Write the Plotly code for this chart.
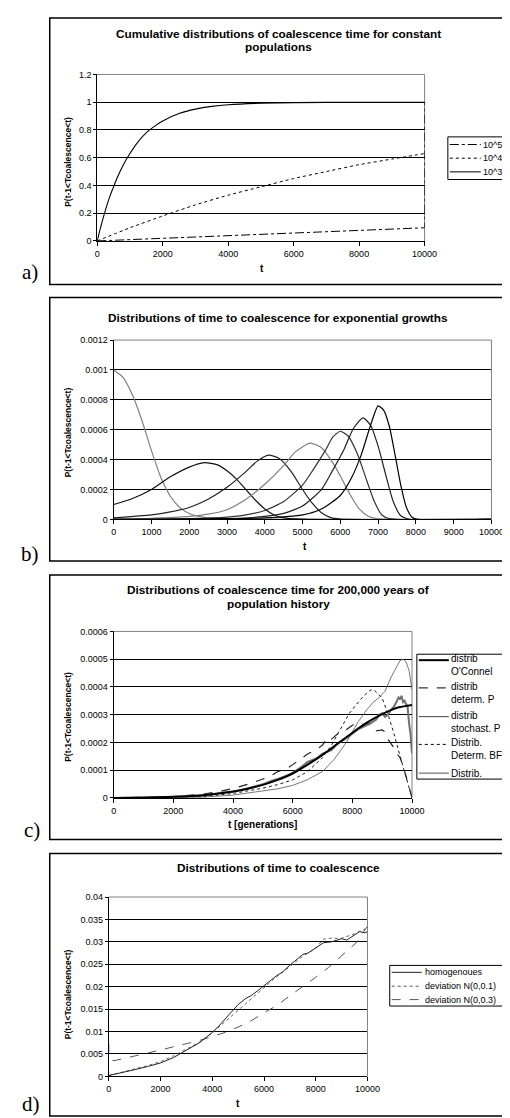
import plotly.graph_objects as go

W, H = 510, 1118
F = "Liberation Sans"
SERIF = "Liberation Serif"

# ---------------- Panel a data ----------------
a_t3 = [0, 100, 200, 300, 400, 500, 600, 800, 1000, 1200, 1500, 1800, 2000, 2500, 3000, 3500, 4000, 5000, 6000, 8000, 10000]
a_v3 = [0, 0.095, 0.18, 0.26, 0.33, 0.39, 0.45, 0.55, 0.63, 0.70, 0.78, 0.835, 0.865, 0.918, 0.95, 0.97, 0.982, 0.993, 0.997, 1.0, 1.0]
a_t4 = [0, 1000, 2000, 3000, 4000, 5000, 6000, 7000, 8000, 9000, 10000]
a_v4 = [0, 0.095, 0.18, 0.26, 0.33, 0.39, 0.45, 0.50, 0.55, 0.59, 0.63]
a_t5 = [0, 1000, 2000, 3000, 4000, 5000, 6000, 7000, 8000, 9000, 10000, 10000]
a_v5 = [0, 0.01, 0.02, 0.03, 0.039, 0.049, 0.058, 0.068, 0.077, 0.086, 0.095, 1.0]
a_names = ["10^5", "10^4", "10^3"]
a_yticks = ["0", "0.2", "0.4", "0.6", "0.8", "1", "1.2"]
a_yvals = [0, 0.2, 0.4, 0.6, 0.8, 1.0, 1.2]
a_xticks = ["0", "2000", "4000", "6000", "8000", "10000"]
a_xvals = [0, 2000, 4000, 6000, 8000, 10000]

# ---------------- Panel b data ----------------
b_t1 = [0, 250, 500, 750, 1000, 1250, 1500, 1750, 2000, 2250, 2500, 3000, 4000, 6000, 10000]
b_v1 = [1.0e-3, 9.5e-4, 8.3e-4, 6.6e-4, 4.6e-4, 2.8e-4, 1.55e-4, 8e-5, 4e-5, 2e-5, 1e-5, 5e-6, 2e-6, 0, 0]
b_t2 = [0, 500, 1000, 1500, 2000, 2400, 2750, 3000, 3250, 3500, 3750, 4000, 4250, 4500, 5000, 10000]
b_v2 = [1.0e-4, 1.4e-4, 2.0e-4, 2.85e-4, 3.5e-4, 3.8e-4, 3.65e-4, 3.25e-4, 2.7e-4, 2.0e-4, 1.3e-4, 7e-5, 3e-5, 1e-5, 2e-6, 0]
b_t3 = [0, 1000, 1500, 2000, 2500, 3000, 3500, 3800, 4100, 4400, 4700, 5000, 5250, 5500, 5750, 6000, 10000]
b_v3 = [1e-5, 3e-5, 5e-5, 8e-5, 1.35e-4, 2.15e-4, 3.2e-4, 3.9e-4, 4.3e-4, 4.05e-4, 3.2e-4, 2.0e-4, 1.1e-4, 4.5e-5, 1.2e-5, 3e-6, 0]
b_t4 = [0, 1000, 2000, 2500, 3000, 3500, 4000, 4500, 4800, 5200, 5500, 5800, 6000, 6250, 6500, 6750, 7000, 10000]
b_v4 = [3e-6, 8e-6, 2e-5, 3.5e-5, 6.5e-5, 1.35e-4, 2.35e-4, 3.6e-4, 4.5e-4, 5.1e-4, 4.8e-4, 3.8e-4, 2.9e-4, 1.7e-4, 7e-5, 2e-5, 4e-6, 0]
b_t5 = [0, 2000, 3000, 3500, 4000, 4500, 5000, 5300, 5600, 5800, 6000, 6200, 6450, 6700, 6900, 7100, 7300, 10000]
b_v5 = [0, 5e-6, 1.5e-5, 3e-5, 6e-5, 1.2e-4, 2.3e-4, 3.4e-4, 4.6e-4, 5.5e-4, 5.9e-4, 5.6e-4, 4.4e-4, 2.6e-4, 1.2e-4, 3e-5, 5e-6, 0]
b_t6 = [0, 3000, 4000, 4500, 5000, 5500, 5800, 6100, 6350, 6600, 6800, 7000, 7200, 7400, 7600, 7800, 10000]
b_v6 = [0, 4e-6, 2e-5, 4e-5, 9e-5, 2.0e-4, 3.3e-4, 4.7e-4, 6.1e-4, 6.8e-4, 6.3e-4, 4.9e-4, 3.0e-4, 1.2e-4, 2.5e-5, 3e-6, 0]
b_t7 = [0, 4000, 5000, 5500, 6000, 6300, 6550, 6800, 7000, 7150, 7300, 7450, 7600, 7750, 7900, 8050, 10000]
b_v7 = [0, 1e-5, 3e-5, 7e-5, 1.6e-4, 2.8e-4, 4.3e-4, 6.3e-4, 7.6e-4, 7.3e-4, 6.2e-4, 4.3e-4, 2.3e-4, 8e-5, 1.5e-5, 0, 0]
b_yticks = ["0", "0.0002", "0.0004", "0.0006", "0.0008", "0.001", "0.0012"]
b_yvals = [0, 0.0002, 0.0004, 0.0006, 0.0008, 0.001, 0.0012]
b_xticks = ["0", "1000", "2000", "3000", "4000", "5000", "6000", "7000", "8000", "9000", "10000"]
b_xvals = [0, 1000, 2000, 3000, 4000, 5000, 6000, 7000, 8000, 9000, 10000]

# ---------------- Panel c data ----------------
c_tA = [0, 1000, 2000, 3000, 4000, 4500, 5000, 5500, 6000, 6500, 7000, 7500, 8000, 8500, 9000, 9500, 10000]
c_vA = [0, 1e-6, 4e-6, 1.0e-5, 2.3e-5, 3.3e-5, 4.7e-5, 6.5e-5, 8.8e-5, 1.2e-4, 1.55e-4, 1.95e-4, 2.35e-4, 2.72e-4, 3.02e-4, 3.25e-4, 3.35e-4]
c_tB = [0, 2000, 3000, 3500, 4000, 4500, 5000, 5300, 5500, 5800, 6000, 6300, 6500, 6800, 7000, 7200, 7300, 7500, 7700, 8000, 8200, 8400, 8600, 8700, 8800, 9000, 9100, 9200, 9300, 9400, 9500, 9600, 9700, 9800, 9900, 10000]
c_vB = [0, 4e-6, 1.4e-5, 2.2e-5, 3.4e-5, 4.9e-5, 6.8e-5, 8.2e-5, 9.5e-5, 1.05e-4, 1.2e-4, 1.42e-4, 1.58e-4, 1.75e-4, 1.9e-4, 2.2e-4, 2.12e-4, 2.3e-4, 2.38e-4, 2.62e-4, 2.7e-4, 2.64e-4, 2.7e-4, 2.58e-4, 2.42e-4, 2.45e-4, 2.38e-4, 2.1e-4, 1.95e-4, 1.8e-4, 1.58e-4, 1.45e-4, 1.15e-4, 8e-5, 4e-5, 0]
c_tD = [0, 3000, 4000, 5000, 5500, 6000, 6500, 7000, 7400, 7800, 8200, 8500, 8700, 8900, 9100, 9300, 9500, 9600, 9700, 9800, 9900, 10000]
c_vD = [0, 3e-6, 1e-5, 2.4e-5, 3.3e-5, 4.5e-5, 6.6e-5, 9.5e-5, 1.4e-4, 2.0e-4, 2.75e-4, 3.2e-4, 3.45e-4, 3.62e-4, 3.85e-4, 4.35e-4, 4.75e-4, 4.95e-4, 5.0e-4, 4.9e-4, 4.6e-4, 3.9e-4]
c_tC = [0, 3000, 4000, 5000, 5500, 6000, 6500, 7000, 7300, 7600, 7900, 8200, 8400, 8600, 8700, 8800, 9000, 9200, 9400, 9600, 9800, 10000]
c_vC = [0, 5e-6, 1.6e-5, 3.5e-5, 4.8e-5, 6.5e-5, 9.5e-5, 1.45e-4, 1.9e-4, 2.5e-4, 3.05e-4, 3.45e-4, 3.7e-4, 3.88e-4, 3.9e-4, 3.82e-4, 3.6e-4, 3.0e-4, 2.3e-4, 1.5e-4, 7e-5, 0]
c_tE = [0, 2000, 3000, 4000, 4500, 5000, 5300, 5500, 5800, 6000, 6300, 6500, 6800, 7000, 7300, 7500, 7800, 8000, 8200, 8400, 8600, 8800, 8900, 9000, 9100, 9200, 9300, 9400, 9500, 9550, 9600, 9650, 9700, 9750, 9800, 9850, 9900, 9950, 10000]
c_vE = [0, 4e-6, 1e-5, 2.2e-5, 3.5e-5, 4.9e-5, 6.2e-5, 6.8e-5, 8.0e-5, 9.0e-5, 1.12e-4, 1.3e-4, 1.42e-4, 1.6e-4, 1.72e-4, 1.95e-4, 2.15e-4, 2.3e-4, 2.48e-4, 2.58e-4, 2.68e-4, 2.82e-4, 3.0e-4, 3.05e-4, 2.92e-4, 3.0e-4, 3.18e-4, 3.3e-4, 3.48e-4, 3.62e-4, 3.55e-4, 3.68e-4, 3.45e-4, 3.5e-4, 3.38e-4, 3.3e-4, 2.7e-4, 2.3e-4, 1.6e-4]
c_names = [["distrib", "O'Connel"], ["distrib", "determ. P"], ["distrib", "stochast. P"], ["Distrib.", "Determ. BF"], ["Distrib."]]
c_yticks = ["0", "0.0001", "0.0002", "0.0003", "0.0004", "0.0005", "0.0006"]
c_yvals = [0, 0.0001, 0.0002, 0.0003, 0.0004, 0.0005, 0.0006]
c_xticks = ["0", "2000", "4000", "6000", "8000", "10000"]
c_xvals = [0, 2000, 4000, 6000, 8000, 10000]

# ---------------- Panel d data ----------------
d_t1 = [0, 500, 1000, 1500, 2000, 2500, 3000, 3500, 4000, 4300, 4600, 5000, 5300, 5500, 5800, 6000, 6300, 6500, 6700, 7000, 7300, 7500, 7700, 8000, 8300, 8600, 9000, 9200, 9500, 9700, 9900, 10000]
d_v1 = [0.0002, 0.0008, 0.0015, 0.0022, 0.0030, 0.0042, 0.0059, 0.0075, 0.0098, 0.0115, 0.0135, 0.0160, 0.0174, 0.0180, 0.0193, 0.0203, 0.0216, 0.0225, 0.0232, 0.0248, 0.0262, 0.0272, 0.0275, 0.0287, 0.0298, 0.0300, 0.0307, 0.0304, 0.0316, 0.0323, 0.0320, 0.0323]
d_t2 = [0, 500, 1000, 1500, 2000, 2500, 3000, 3500, 4000, 4500, 5000, 5500, 6000, 6500, 7000, 7500, 8000, 8300, 8500, 9000, 9500, 10000]
d_v2 = [0.0002, 0.0009, 0.0016, 0.0024, 0.0033, 0.0046, 0.0061, 0.0076, 0.0097, 0.0122, 0.0148, 0.0172, 0.0197, 0.0223, 0.0245, 0.0268, 0.0286, 0.0306, 0.0308, 0.0308, 0.0318, 0.0331]
d_t3 = [0, 0, 50, 200, 500, 1000, 1500, 2000, 2500, 3000, 3500, 4000, 4500, 5000, 5500, 6000, 6500, 7000, 7500, 8000, 8500, 9000, 9300, 9600, 10000]
d_v3 = [0.0072, 0.0043, 0.0038, 0.0035, 0.0039, 0.0045, 0.0052, 0.0059, 0.0066, 0.0073, 0.0080, 0.0089, 0.0098, 0.0110, 0.0124, 0.0142, 0.0158, 0.0180, 0.0200, 0.0221, 0.0243, 0.0268, 0.0283, 0.0300, 0.0335]
d_names = ["homogenoues", "deviation N(0,0.1)", "deviation N(0,0.3)"]
d_yticks = ["0", "0.005", "0.01", "0.015", "0.02", "0.025", "0.03", "0.035", "0.04"]
d_yvals = [0, 0.005, 0.01, 0.015, 0.02, 0.025, 0.03, 0.035, 0.04]
d_xticks = ["0", "2000", "4000", "6000", "8000", "10000"]
d_xvals = [0, 2000, 4000, 6000, 8000, 10000]

titles = [["Cumulative distributions of coalescence time for constant", "populations"],
          ["Distributions of time to coalescence for exponential growths"],
          ["Distributions of coalescence time for 200,000 years of", "population history"],
          ["Distributions of time to coalescence"]]
ytitle = "P(t-1<Tcoalescence<t)"
xtitles = ["t", "t", "t [generations]", "t"]
panel_labels = ["a)", "b)", "c)", "d)"]


def px(x):
    return x / W


def py(y):
    return 1 - y / H


fig = go.Figure()


def line(xs, ys, ax, color, width=1.0, dash="solid", shape="spline"):
    fig.add_trace(go.Scatter(x=xs, y=ys, mode="lines", xaxis="x" + ax, yaxis="y" + ax,
                             line=dict(color=color, width=width, dash=dash, shape=shape, smoothing=0.6),
                             showlegend=False, hoverinfo="skip"))


# panel a
line(a_t5, a_v5, "", "black", 1, "dashdot", "linear")
line(a_t4, a_v4, "", "black", 1, "dot")
line(a_t3, a_v3, "", "black", 1.1, "solid")
# panel b
line(b_t1, b_v1, "2", "#808080", 1.2)
line(b_t2, b_v2, "2", "#111111", 1.2)
line(b_t3, b_v3, "2", "#222222", 1.2)
line(b_t4, b_v4, "2", "#808080", 1.2)
line(b_t5, b_v5, "2", "#333333", 1.2)
line(b_t6, b_v6, "2", "#222222", 1.2)
line(b_t7, b_v7, "2", "#000000", 1.2)
# panel c
line(c_tD, c_vD, "3", "#555555", 0.8, "solid", "linear")
line(c_tC, c_vC, "3", "black", 0.9, "dot", "linear")
line(c_tB, c_vB, "3", "#222222", 1.2, "dash", "linear")
line(c_tE, c_vE, "3", "#707070", 2.0, "solid", "linear")
line(c_tA, c_vA, "3", "black", 2.0, "solid")
# panel d
line(d_t3, d_v3, "4", "#555555", 1.0, "dash", "linear")
line(d_t2, d_v2, "4", "#666666", 1.0, "dot", "linear")
line(d_t1, d_v1, "4", "#222222", 1.0, "solid", "linear")

# plot areas [x0, x1, ytop, ybottom] in pixels
areas = [(89, 427, 62, 230), (106, 496, 330, 511), (106, 414, 624, 792), (101, 368, 892, 1073)]
yinfo = [(a_yvals, a_yticks, 1.2), (b_yvals, b_yticks, 0.0012), (c_yvals, c_yticks, 0.0006), (d_yvals, d_yticks, 0.04)]
xinfo = [(a_xvals, a_xticks), (b_xvals, b_xticks), (c_xvals, c_xticks), (d_xvals, d_xticks)]

layout = dict(width=W, height=H, margin=dict(l=0, r=0, t=0, b=0),
              paper_bgcolor="white", plot_bgcolor="white", showlegend=False)
shapes = []
annotations = []
for i, (x0, x1, yt, yb) in enumerate(areas):
    s = "" if i == 0 else str(i + 1)
    yv, yt_txt, ymax = yinfo[i]
    xv, xt_txt = xinfo[i]
    layout["xaxis" + s] = dict(domain=[px(x0), px(x1)], range=[0, 10000], anchor="y" + s,
                               tickmode="array", tickvals=xv, ticktext=xt_txt,
                               showgrid=False, zeroline=False, showline=True, linecolor="black", linewidth=1,
                               ticks="outside", ticklen=4, tickcolor="black", tickwidth=1,
                               tickfont=dict(family=F, size=9, color="black"), fixedrange=True)
    layout["yaxis" + s] = dict(domain=[py(yb), py(yt)], range=[0, ymax], anchor="x" + s,
                               tickmode="array", tickvals=yv, ticktext=yt_txt,
                               showgrid=True, gridcolor="black", gridwidth=1, zeroline=False,
                               showline=True, linecolor="black", linewidth=1,
                               ticks="outside", ticklen=3, tickcolor="black", tickwidth=1,
                               tickfont=dict(family=F, size=9, color="black"), fixedrange=True)
    shapes.append(dict(type="line", xref="paper", yref="paper", x0=px(x0), x1=px(x1), y0=py(yt), y1=py(yt),
                       line=dict(color="#808080", width=1), layer="above"))
    shapes.append(dict(type="line", xref="paper", yref="paper", x0=px(x1), x1=px(x1), y0=py(yt), y1=py(yb),
                       line=dict(color="#808080", width=1), layer="below"))

# outer panel boxes
boxes = [(40, 509, 5, 274), (40, 509, 287, 553), (40, 509, 567, 834), (40, 509, 848, 1113)]
for (bx0, bx1, by0, by1) in boxes:
    shapes.append(dict(type="rect", xref="paper", yref="paper", x0=px(bx0), x1=px(bx1), y0=py(by1), y1=py(by0),
                       line=dict(color="black", width=1.5), fillcolor="rgba(0,0,0,0)"))

# titles (one annotation per line)
title_pos = [(276, [21, 34.5]), (276, [308]), (276, [582, 596]), (276, [863])]
for lines, (tx, tys) in zip(titles, title_pos):
    for ln, ty in zip(lines, tys):
        annotations.append(dict(text="<b>" + ln + "</b>", x=px(tx), y=py(ty), xref="paper", yref="paper",
                                xanchor="center", yanchor="middle", showarrow=False,
                                font=dict(family=F, size=11.8, color="black")))
# y titles
ytitle_y = [150, 423, 710, 990]
for yy in ytitle_y:
    annotations.append(dict(text="<b>" + ytitle.replace("<", "&lt;") + "</b>", x=px(59), y=py(yy),
                            xref="paper", yref="paper", textangle=-90,
                            xanchor="center", yanchor="middle", showarrow=False,
                            font=dict(family=F, size=8.5, color="black")))
# x titles
xt_pos = [(259, 258), (304, 538), (260, 819), (234, 1100)]
for t, (tx, ty) in zip(xtitles, xt_pos):
    annotations.append(dict(text="<b>" + t + "</b>", x=px(tx), y=py(ty), xref="paper", yref="paper",
                            xanchor="center", yanchor="middle", showarrow=False,
                            font=dict(family=F, size=10, color="black")))
# panel labels
pl_pos = [(20, 261), (20, 546), (22, 824), (21, 1101)]
for t, (tx, ty) in zip(panel_labels, pl_pos):
    annotations.append(dict(text=t, x=px(tx), y=py(ty), xref="paper", yref="paper",
                            xanchor="center", yanchor="middle", showarrow=False,
                            font=dict(family=SERIF, size=21, color="black")))


def legend_box(x0, x1, y0, y1):
    shapes.append(dict(type="rect", xref="paper", yref="paper", x0=px(x0), x1=px(x1), y0=py(y1), y1=py(y0),
                       line=dict(color="black", width=1), fillcolor="white", layer="above"))


def legend_entry(lx0, lx1, ly, color, width, dash, tx, ty, text, size):
    shapes.append(dict(type="line", xref="paper", yref="paper", x0=px(lx0), x1=px(lx1), y0=py(ly), y1=py(ly),
                       line=dict(color=color, width=width, dash=dash), layer="above"))
    annotations.append(dict(text=text, x=px(tx), y=py(ty), xref="paper", yref="paper",
                            xanchor="left", yanchor="middle", showarrow=False, align="left",
                            font=dict(family=F, size=size, color="black")))


# legend a
legend_box(451, 508, 125, 168)
legend_entry(453, 485, 132.7, "black", 1, "dashdot", 485, 132.7, a_names[0], 9)
legend_entry(453, 485, 146.5, "black", 1, "dot", 485, 146.5, a_names[1], 9)
legend_entry(453, 485, 160.3, "black", 1, "solid", 485, 160.3, a_names[2], 9)

# legend c
legend_box(419, 509, 647, 773)
c_styles = [("black", 2, "solid"), ("black", 1, "dash"), ("#444444", 1, "solid"), ("black", 1, "dot"), ("#707070", 1.2, "solid")]
c_rows = [653, 681, 710, 738, 767]
for (col, wd, ds), nm, ry in zip(c_styles, c_names, c_rows):
    legend_entry(421, 452, ry, col, wd, ds, 452, ry + (5 if len(nm) == 2 else 0), "<br>".join(nm), 10)

# legend d
legend_box(391, 509, 961, 1002)
d_styles = [("#222222", 1, "solid"), ("#555555", 1, "dot"), ("#555555", 1, "dash")]
d_rows = [968, 982, 995.5]
for (col, wd, ds), nm, ry in zip(d_styles, d_names, d_rows):
    legend_entry(393, 424, ry, col, wd, ds, 425, ry, nm, 9)

layout["shapes"] = shapes
layout["annotations"] = annotations
fig.update_layout(**layout)
fig.write_html("out.html")
